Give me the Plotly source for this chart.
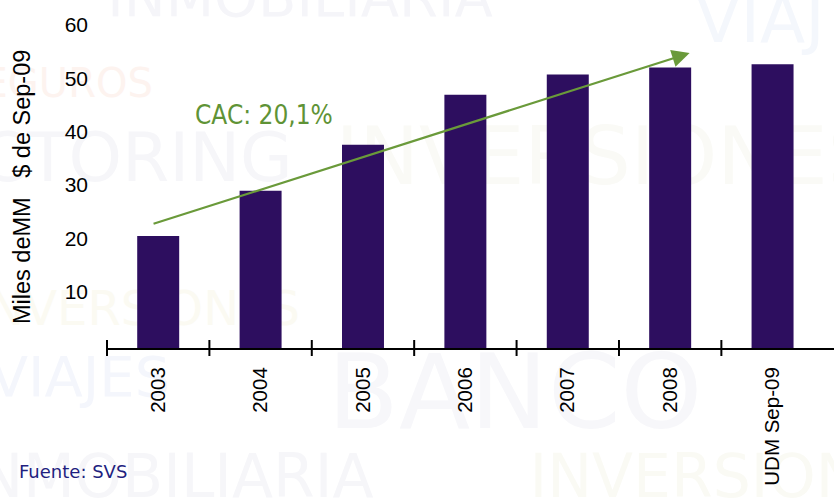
import plotly.graph_objects as go

# ---- data ----
categories = ["2003", "2004", "2005", "2006", "2007", "2008", "UDM Sep-09"]
values = [21.0, 29.5, 38.1, 47.5, 51.3, 52.6, 53.2]
y_ticks = [10, 20, 30, 40, 50, 60]
trend_start = [-0.06, 23.2]   # (category position, value)
trend_end = [5.19, 55.3]
trend_label = "CAC: 20,1%"
trend_label_pos = [1.03, 43.6]
y_title = "Miles deMM   $ de Sep-09"
source = "Fuente: SVS"

# faint background watermark words: text, centre x px, centre y px, colour, size
watermarks = [
    ("INMOBILIARIA", 300, -8, "#f5f5f9", 56),
    ("VIAJ", 760, 14, "#f4f7fc", 66),
    ("SEGUROS", 55, 80, "#fdf3ef", 40),
    ("FACTORING", 97, 152, "#f6f6f9", 68),
    ("INVERSIONES", 607, 150, "#fafaf6", 80),
    ("INVERSIONES", 137, 305, "#fbfaf2", 48),
    ("VIAJES", 80, 372, "#f4f6fc", 56),
    ("BANCO", 515, 385, "#f7f7fa", 104),
    ("INMOBILIARIA", 167, 472, "#f6f6f9", 60),
    ("INVERSIONES", 733, 472, "#fafaf4", 60),
]

bar_color = "#2D0E5F"
green = "#6A9A3A"
font_lib = "Liberation Sans, Arial, sans-serif"
font_dv = "DejaVu Sans, sans-serif"
font_cond = "DejaVu Sans Condensed, DejaVu Sans, sans-serif"

x_min, x_max = -0.5, 6.6
PL, PT, PW, PH = 107, 6, 727, 342   # plot-area pixel geometry

def px_to_paper(px, py):
    return (px - PL) / PW, (PT + PH - py) / PH

fig = go.Figure()
fig.add_trace(go.Bar(
    x=list(range(len(categories))), y=values,
    marker=dict(color=bar_color, line=dict(width=0)),
    width=0.41,
))

shapes = []
for txt, cx, cy, col, sz in watermarks:
    xp, yp = px_to_paper(cx, cy)
    shapes.append(dict(
        type="rect", xref="paper", yref="paper",
        x0=xp - 0.01, x1=xp + 0.01, y0=yp - 0.01, y1=yp + 0.01,
        line=dict(width=0), fillcolor="rgba(0,0,0,0)", layer="below",
        label=dict(text=txt, font=dict(family=font_dv, size=sz, color=col),
                   textposition="middle center"),
    ))

# category boundary tick marks crossing the axis line
for i in range(len(categories)):
    b = i - 0.5
    xp = (b - x_min) / (x_max - x_min)
    shapes.append(dict(
        type="line", xref="paper", yref="paper",
        x0=xp, x1=xp, y0=-8 / PH, y1=8 / PH,
        line=dict(color="black", width=2),
    ))

tx, ty = px_to_paper(22, 187)
sx, sy = px_to_paper(17, 471)
annotations = [
    dict(x=trend_end[0], y=trend_end[1], ax=trend_start[0], ay=trend_start[1],
         xref="x", yref="y", axref="x", ayref="y", text="", showarrow=True,
         arrowhead=2, arrowsize=1.6, arrowwidth=2.2, arrowcolor=green),
    dict(x=trend_label_pos[0], y=trend_label_pos[1], xref="x", yref="y",
         text=trend_label, showarrow=False,
         font=dict(family=font_cond, size=26, color="#5F9336")),
    dict(x=tx, y=ty, xref="paper", yref="paper",
         xanchor="center", yanchor="middle",
         text=y_title, textangle=-90, showarrow=False,
         font=dict(family=font_lib, size=23.5, color="black")),
    dict(x=sx, y=sy, xref="paper", yref="paper",
         xanchor="left", yanchor="middle", text=source, showarrow=False,
         font=dict(family=font_dv, size=18, color="#1F1F80")),
]

fig.update_layout(
    width=834, height=498,
    margin=dict(l=PL, r=834 - PL - PW, t=PT, b=498 - PT - PH, autoexpand=False),
    paper_bgcolor="white", plot_bgcolor="rgba(0,0,0,0)",
    showlegend=False,
    shapes=shapes,
    annotations=annotations,
    font=dict(family=font_lib, size=20, color="black"),
    xaxis=dict(
        range=[x_min, x_max], tickmode="array",
        tickvals=list(range(len(categories))), ticktext=categories,
        tickangle=-90, ticks="", showgrid=False, zeroline=False,
        showline=True, linecolor="black", linewidth=2,
        ticklabelstandoff=9, automargin=False,
        tickfont=dict(family=font_lib, size=20.5, color="black"),
    ),
    yaxis=dict(
        range=[0, 64.125], tickmode="array", tickvals=y_ticks,
        ticktext=[str(v) for v in y_ticks],
        ticks="", showgrid=False, zeroline=False, showline=False,
        ticklabelstandoff=18, ticklabelshift=-3, automargin=False,
        tickfont=dict(family=font_lib, size=21, color="black"),
    ),
)

fig.write_html("out.html", config={"displayModeBar": False},
               post_script="document.body.style.margin='0px';")
